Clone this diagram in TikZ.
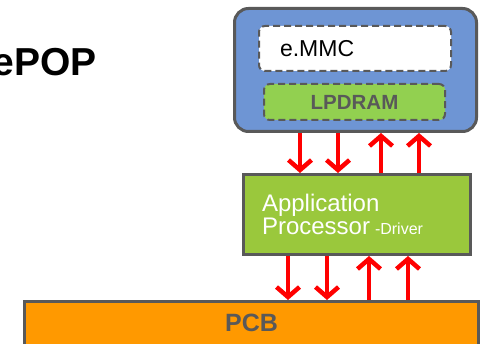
\documentclass[tikz,border=0pt]{standalone}
\usepackage{fontspec}
\setmainfont{Liberation Sans}
\usetikzlibrary{arrows.meta}

\definecolor{pkgblue}{RGB}{110,149,212}
\definecolor{apgreen}{RGB}{154,200,60}
\definecolor{ramgreen}{RGB}{146,208,80}
\definecolor{pcborange}{RGB}{255,153,0}
\definecolor{edgegray}{RGB}{89,89,89}

\begin{document}
\begin{tikzpicture}[x=1pt,y=-1pt,
    solidbox/.style={draw=edgegray,line width=3pt,inner sep=0pt},
    dashbox/.style={draw=edgegray,line width=2pt,dash pattern=on 7pt off 4pt,rounded corners=6pt},
    sig/.style={draw=red,line width=4.5pt,-{Straight Barb[length=10pt,width=23pt]}}]
  \useasboundingbox (0,0) rectangle (487,344);
  % boxes
  \node[solidbox,fill=pkgblue,rounded corners=14pt,minimum width=242pt,minimum height=123pt] (pkg) at (355.5,70) {};
  \node[dashbox,fill=white,minimum height=45pt,text width=150pt,inner xsep=21pt,align=left] (emmc) at (355,48.5)
    {\fontsize{23}{23}\selectfont e.MMC};
  \node[dashbox,fill=ramgreen,minimum width=181pt,minimum height=36pt,text=edgegray] (ram) at (354.5,102)
    {\fontsize{20.5}{20.5}\selectfont\bfseries LPDRAM};
  \node[solidbox,fill=apgreen,minimum height=80pt,text width=190pt,inner xsep=18.5pt,align=left,text=white] (ap) at (357,214.5)
    {\fontsize{24}{27}\selectfont Application\\Processor\hspace{5pt}{\fontsize{16}{16}\selectfont -Driver}};
  \node[solidbox,fill=pcborange,minimum width=454pt,minimum height=48.5pt] (pcb) at (251.5,325.75) {};
  \node[text=edgegray,inner sep=0pt] (pcbname) at (251.5,323) {\fontsize{25}{25}\selectfont\bfseries PCB};
  \node[anchor=east,inner sep=0pt] (title) at (97,62.5) {\fontsize{39}{39}\selectfont\bfseries ePOP};
  % signals
  \foreach \x in {300,338}
    \draw[sig] (pkg.south -| \x,0) -- (ap.north -| \x,0);
  \foreach \x in {381,419}
    \draw[sig] (ap.north -| \x,0) -- (pkg.south -| \x,0);
  \foreach \x in {288,327}
    \draw[sig] (ap.south -| \x,0) -- (pcb.north -| \x,0);
  \foreach \x in {369,408}
    \draw[sig] (pcb.north -| \x,0) -- (ap.south -| \x,0);
\end{tikzpicture}
\end{document}
